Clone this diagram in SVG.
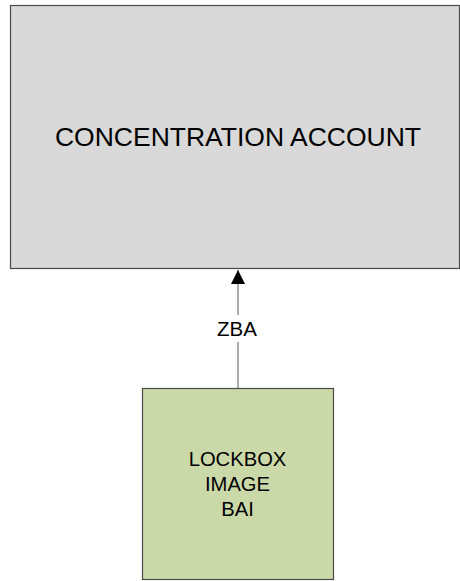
<svg xmlns="http://www.w3.org/2000/svg" width="460" height="581" viewBox="0 0 460 581">
  <style>
    .box { stroke: #4a4a4a; stroke-width: 1.2; }
    .label { font-family: "Liberation Sans", Arial, sans-serif; fill: #000; text-anchor: middle; }
    .link { stroke: #7f7f7f; stroke-width: 1.3; fill: none; }
  </style>
  <defs>
    <marker id="arrow" viewBox="0 0 14 14" refX="14" refY="7" markerWidth="14" markerHeight="14" markerUnits="userSpaceOnUse" orient="auto">
      <path d="M0,0 L14,7 L0,14 Z" fill="#000"/>
    </marker>
  </defs>
  <rect width="460" height="581" fill="#fff"/>

  <g id="concentration-account">
    <rect class="box" x="10.5" y="5.5" width="449" height="263" fill="#d9d9d9"/>
    <text class="label" x="238" y="146" font-size="26.5">CONCENTRATION ACCOUNT</text>
  </g>

  <g id="lockbox-image-bai">
    <rect class="box" x="142.5" y="388.5" width="191" height="191" fill="#cbd9a8"/>
    <text class="label" x="237.5" y="466" font-size="20.2">LOCKBOX</text>
    <text class="label" x="237.5" y="491" font-size="20.2">IMAGE</text>
    <text class="label" x="237.5" y="516" font-size="20.2">BAI</text>
  </g>

  <g id="connectors">
    <line class="link" x1="238" y1="388" x2="238" y2="342"/>
    <line class="link" x1="238" y1="315" x2="238" y2="270" marker-end="url(#arrow)"/>
    <text class="label" x="237" y="336" font-size="20.5">ZBA</text>
  </g>
</svg>
